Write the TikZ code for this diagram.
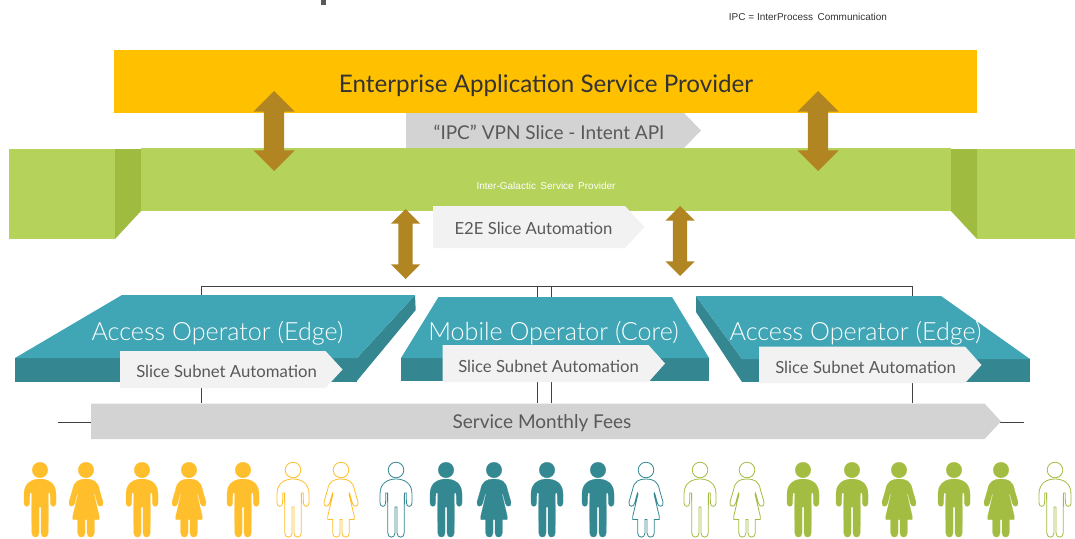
\documentclass[tikz,border=0pt]{standalone}
\usepackage{fontspec}
\setmainfont{Lato}
\newfontfamily\notefont{Liberation Sans}
\newfontfamily\thinfont{Lato Light}
\usetikzlibrary{shapes.arrows}
\definecolor{barYellow}{HTML}{FFC000}
\definecolor{barGreen}{HTML}{B5D25B}
\definecolor{foldGreen}{HTML}{9FBB40}
\definecolor{opTeal}{HTML}{40A6B5}
\definecolor{opDark}{HTML}{348790}
\definecolor{arrowBrown}{HTML}{B08522}
\definecolor{pplYellow}{HTML}{FFBE2C}
\definecolor{pplTeal}{HTML}{338892}
\definecolor{pplGreen}{HTML}{A2BD41}
\definecolor{tagGrey}{HTML}{D3D3D3}
\definecolor{tagLight}{HTML}{F2F2F2}
\definecolor{tagText}{HTML}{595959}
\tikzset{
    man/.pic={
        \path[pic actions] (0,0) circle (7.8);
        \path[pic actions] (0,9) .. controls (8,9) and (16,13) .. (16,24) -- (16,33)
            .. controls (16,37.5) and (10.4,37.5) .. (10.4,33) -- (10.2,23) -- (8.4,23) -- (8.2,63)
            .. controls (8.2,68.5) and (1,68.5) .. (1,63) -- (1,37) -- (-1,37) -- (-1,63)
            .. controls (-1,68.5) and (-8.2,68.5) .. (-8.2,63) -- (-8.4,23) -- (-10.2,23) -- (-10.4,33)
            .. controls (-10.4,37.5) and (-16,37.5) .. (-16,33) -- (-16,24)
            .. controls (-16,13) and (-8,9) .. (0,9) -- cycle;
    },
    woman/.pic={
        \path[pic actions] (0,0) circle (7.8);
        \path[pic actions] (0,9) .. controls (7,9) and (12,11) .. (13.5,20) -- (17,32)
            .. controls (18,37.5) and (12,37.5) .. (11.3,33) -- (8.6,23) -- (8,24) -- (13.2,46)
            -- (13.2,49.5) -- (8.3,49.5) -- (8.3,63)
            .. controls (8.3,68.5) and (1,68.5) .. (1,63) -- (1,49.5) -- (-1,49.5) -- (-1,63)
            .. controls (-1,68.5) and (-8.3,68.5) .. (-8.3,63) -- (-8.3,49.5) -- (-13.2,49.5)
            -- (-13.2,46) -- (-8,24) -- (-8.6,23) -- (-11.3,33)
            .. controls (-12,37.5) and (-18,37.5) .. (-17,32) -- (-13.5,20)
            .. controls (-12,11) and (-7,9) .. (0,9) -- cycle;
    },
    personfull/.style={fill=#1,draw=#1,line width=0.2pt},
    personhollow/.style={fill=white,draw=#1,line width=0.8pt},
    updown/.style={double arrow,fill=arrowBrown,rotate=90,inner xsep=0pt,double arrow tip angle=90},
    bigupdown/.style={updown,minimum height=80pt,inner ysep=10pt,double arrow head extend=10.5pt},
    smallupdown/.style={updown,minimum height=70pt,inner ysep=7pt,double arrow head extend=7.5pt},
    bus/.style={draw=black!75,line width=0.7pt},
    optitle/.style={text=white,font=\thinfont\fontsize{25.1}{28}\selectfont},
    subnet/.style={text=tagText,font=\fontsize{16.7}{20}\selectfont},
}
\begin{document}
\begin{tikzpicture}[x=1pt,y=-1pt]
    \useasboundingbox (0,0) rectangle (1075,538);

    \fill[tagText] (321,0) rectangle (326,5);
    \node[text=black!80,font=\notefont\fontsize{10}{12}\selectfont,inner sep=0pt] (ipcnote) at (808,17) {IPC = InterProcess\, Communication};

    \fill[barYellow] (114,50) rectangle (977,113);
    \node[text=black!80,font=\fontsize{24.2}{28}\selectfont] (enterprise) at (546,85.5) {Enterprise Application Service Provider};

    \fill[tagGrey] (406,113) -- (684,113) -- (701,130.5) -- (684,148) -- (406,148) -- cycle;
    \node[text=tagText,font=\fontsize{19}{22}\selectfont] (intent) at (549,132) {``IPC'' VPN Slice - Intent API};

    \fill[barGreen] (9,149) rectangle (115,239);
    \fill[barGreen] (977,149) rectangle (1075,239);
    \fill[foldGreen] (115,149) -- (141,149) -- (141,211) -- (115,239) -- cycle;
    \fill[foldGreen] (951,149) -- (977,149) -- (977,239) -- (951,211) -- cycle;
    \fill[barGreen] (141,148) rectangle (951,211);
    \node[text=white,font=\notefont\fontsize{10}{12}\selectfont,inner sep=0pt] (galactic) at (546,185.5) {Inter-Galactic\, Service\, Provider};

    \fill[tagLight] (433,206) -- (625,206) -- (644.5,227) -- (625,248) -- (433,248) -- cycle;
    \node[text=tagText,font=\fontsize{16.7}{20}\selectfont] (e2e) at (533.5,228.5) {E2E Slice Automation};

    \node[bigupdown] (arrowa) at (274,131) {};
    \node[bigupdown] (arrowb) at (818,131) {};
    \node[smallupdown] (arrowc) at (405.5,244) {};
    \node[smallupdown] (arrowd) at (680,241) {};

    \coordinate (busa) at (201,286);
    \coordinate (busb) at (537,286);
    \coordinate (busc) at (551,286);
    \coordinate (busd) at (912,286);
    \coordinate (feea) at (201,403);
    \coordinate (feeb) at (537,403);
    \coordinate (feec) at (551,403);
    \coordinate (feed) at (912,403);
    \coordinate (feeleft) at (58,422);
    \coordinate (feeright) at (1024,422);
    \draw[bus] (busa) -- (busd);
    \draw[bus] (busa) -- (feea);
    \draw[bus] (busb) -- (feeb);
    \draw[bus] (busc) -- (feec);
    \draw[bus] (busd) -- (feed);
    \draw[bus] (feeleft) -- (feeright);

    \fill[opDark] (15,358) rectangle (357,382);
    \fill[opDark] (415,295) -- (415.7,310) -- (356,382) -- (357,358) -- cycle;
    \fill[opTeal] (15,358) -- (122,295) -- (415,295) -- (357,358) -- cycle;
    \node[optitle] (edgea) at (217.5,333) {Access Operator (Edge)};

    \fill[opDark] (401,358) rectangle (709,381);
    \fill[opTeal] (401,358) -- (438.5,297) -- (672,297) -- (709,358) -- cycle;
    \node[optitle] (core) at (553.5,333) {Mobile Operator (Core)};

    \fill[opDark] (742,359) rectangle (1030,382);
    \fill[opDark] (696,296) -- (696,312) -- (742,382) -- (742,359) -- cycle;
    \fill[opTeal] (696,296) -- (941,296) -- (1030,359) -- (742,359) -- cycle;
    \node[optitle] (edgeb) at (855.5,333) {Access Operator (Edge)};

    \fill[tagLight] (120,351) -- (325.5,351) -- (342.5,369.5) -- (325.5,388) -- (120,388) -- cycle;
    \node[subnet] (subneta) at (226.5,371) {Slice Subnet Automation};
    \fill[tagLight] (442.5,345) -- (648.5,345) -- (665,363.5) -- (648.5,382) -- (442.5,382) -- cycle;
    \node[subnet] (subnetb) at (548.5,366) {Slice Subnet Automation};
    \fill[tagLight] (759,346.5) -- (965,346.5) -- (981.5,365) -- (965,383) -- (759,383) -- cycle;
    \node[subnet] (subnetc) at (865.5,367) {Slice Subnet Automation};

    \fill[tagGrey] (91,403.5) -- (984.5,403.5) -- (1001,421.5) -- (984.5,439) -- (91,439) -- cycle;
    \node[text=tagText,font=\fontsize{19}{22}\selectfont] (fees) at (542,423) {Service Monthly Fees};

    \foreach \px/\kind/\tone in {40/man/pplYellow,86/woman/pplYellow,142/man/pplYellow,189/woman/pplYellow,243/man/pplYellow,
        446/man/pplTeal,494/woman/pplTeal,547/man/pplTeal,598/man/pplTeal,
        803/man/pplGreen,852/man/pplGreen,899/woman/pplGreen,954/man/pplGreen,1001/woman/pplGreen}
        \pic[personfull=\tone] at (\px,470) {\kind};
    \foreach \px/\kind/\tone in {293/man/pplYellow,341/woman/pplYellow,396/man/pplTeal,646/woman/pplTeal,
        700/man/pplGreen,747/woman/pplGreen,1055/man/pplGreen}
        \pic[personhollow=\tone] at (\px,470) {\kind};
\end{tikzpicture}
\end{document}
